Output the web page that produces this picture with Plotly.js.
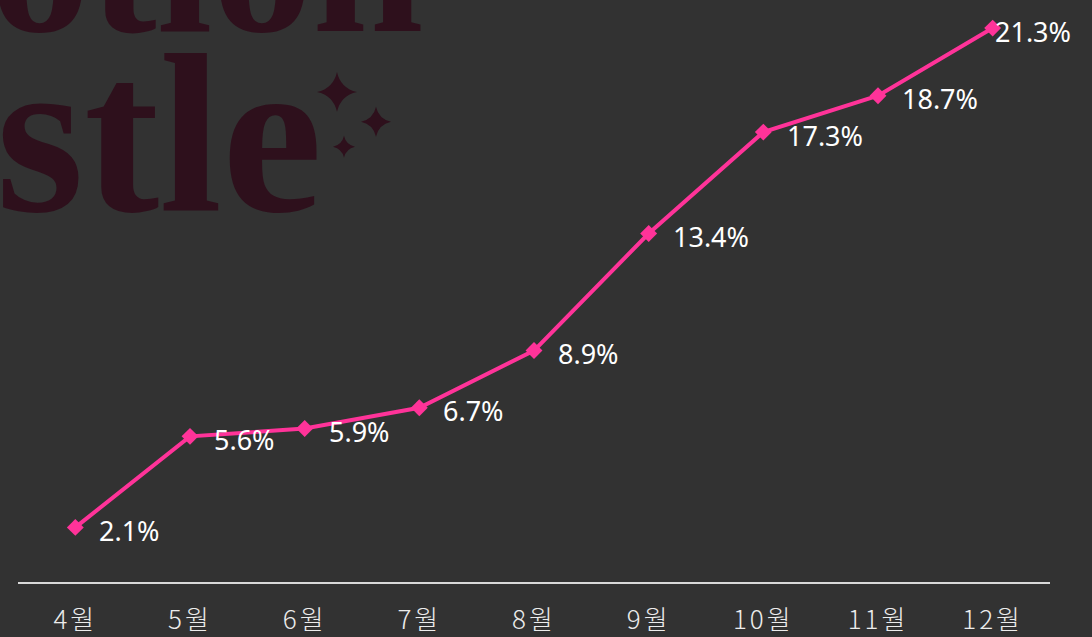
<!DOCTYPE html>
<html>
<head>
<meta charset="utf-8">
<script src="https://cdn.plot.ly/plotly-3.0.1.min.js"></script>
<style>
  html, body { margin: 0; padding: 0; background: #323232; }
  #chart { width: 1092px; height: 637px; }
  .xtick text { letter-spacing: 3px; }
</style>
</head>
<body>
<div id="chart"></div>
<script>
/* 월별 비율 추이 */
const months = ["4월", "5월", "6월", "7월", "8월", "9월", "10월", "11월", "12월"];
const rates = [2.1, 5.6, 5.9, 6.7, 8.9, 13.4, 17.3, 18.7, 21.3];

const WM = "#2e101c"; // 워터마크 색

const trace = {
  x: months,
  y: rates,
  type: "scatter",
  mode: "lines+markers",
  line: { color: "#ff3399", width: 4 },
  marker: { symbol: "diamond", size: 13, color: "#ff3399" },
  cliponaxis: false,
  hoverinfo: "skip",
};

// 데이터 레이블 (마지막 점은 오른쪽 여백이 없어 마커에 붙음)
const labels = months.map((m, i) => ({
  x: m,
  y: rates[i],
  xref: "x", yref: "y",
  text: rates[i].toFixed(1) + "%",
  showarrow: false,
  xanchor: "left",
  yanchor: "middle",
  xshift: i === months.length - 1 ? 0 : 22,
  yshift: -3,
  font: { family: "Noto Sans, Open Sans, sans-serif", size: 27, color: "#ffffff" },
}));

// 배경 워터마크 (픽셀 -> paper 좌표)
const plotL = 18, plotW = 1032, plotH = 582.7;
const px = (x) => (x - plotL) / plotW;
const py = (y) => (plotH - y) / plotH;

function sparkle(cx, cy, r) {
  const k = r * 0.18;
  return {
    type: "path",
    xref: "paper", yref: "paper",
    path:
      `M ${px(cx)},${py(cy - r)} ` +
      `Q ${px(cx + k)},${py(cy - k)} ${px(cx + r)},${py(cy)} ` +
      `Q ${px(cx + k)},${py(cy + k)} ${px(cx)},${py(cy + r)} ` +
      `Q ${px(cx - k)},${py(cy + k)} ${px(cx - r)},${py(cy)} ` +
      `Q ${px(cx - k)},${py(cy - k)} ${px(cx)},${py(cy - r)} Z`,
    fillcolor: WM,
    line: { width: 0 },
    layer: "below",
  };
}

const watermark = [
  {
    text: "<b>stle</b>",
    xref: "paper", yref: "paper",
    x: px(-6), y: py(262),
    xanchor: "left", yanchor: "bottom",
    showarrow: false,
    font: { family: "Liberation Serif, DejaVu Serif, serif", size: 226, color: WM },
  },
  {
    text: "<b>otion</b>",
    xref: "paper", yref: "paper",
    x: px(-12), y: py(76),
    xanchor: "left", yanchor: "bottom",
    showarrow: false,
    font: { family: "Liberation Serif, DejaVu Serif, serif", size: 200, color: WM },
  },
];

const layout = {
  width: 1092,
  height: 637,
  paper_bgcolor: "#323232",
  plot_bgcolor: "rgba(0,0,0,0)",
  margin: { l: 18, r: 42, t: 0, b: 55 },
  showlegend: false,
  xaxis: {
    type: "category",
    range: [-0.5, months.length - 0.5],
    showgrid: false,
    zeroline: false,
    showline: true,
    linecolor: "#d9d9d9",
    linewidth: 2,
    ticks: "",
    ticklabelstandoff: 14,
    tickfont: { family: "Noto Sans CJK KR, sans-serif", size: 26, weight: 300, color: "#ececec" },
    fixedrange: true,
  },
  yaxis: {
    range: [0, 22.38],
    visible: false,
    fixedrange: true,
  },
  shapes: [sparkle(337, 92, 20), sparkle(376, 122, 15), sparkle(344, 147, 11)],
  annotations: watermark.concat(labels),
};

Plotly.newPlot("chart", [trace], layout, { displayModeBar: false, staticPlot: true });
</script>
</body>
</html>
